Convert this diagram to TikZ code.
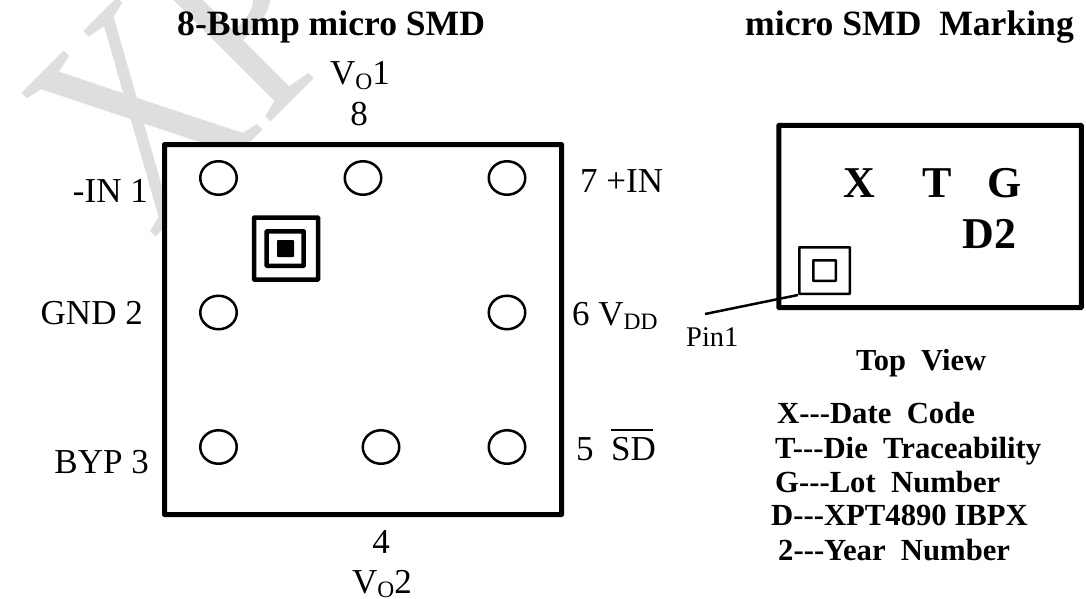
\documentclass[tikz,border=0pt]{standalone}
\usepackage{fontspec}
\setmainfont{Liberation Serif}
\usetikzlibrary{shapes.geometric}

\newcommand{\pinsub}[1]{\raisebox{-4.5pt}{\fontsize{23.5}{24}\selectfont #1}}

\tikzset{
    bump/.style={draw,ellipse,line width=2.5pt,minimum width=36.5pt,minimum height=33.5pt,inner sep=0pt},
    pinlabel/.style={font=\fontsize{35}{35}\selectfont,inner sep=0pt},
    headline/.style={font=\fontsize{35.6}{36}\bfseries\selectfont,inner sep=0pt,anchor=base west},
    markletter/.style={font=\fontsize{44}{44}\bfseries\selectfont,inner sep=0pt,anchor=base},
    legend/.style={font=\fontsize{30.7}{31}\bfseries\selectfont,inner sep=0pt,anchor=base west},
    square/.style={draw,rectangle,inner sep=0pt,rounded corners=0.5pt},
}

\begin{document}
\begin{tikzpicture}[x=1pt,y=-1pt]
    \useasboundingbox (0,0) rectangle (1086,599);
    % watermark
    \node[text=black!13,font=\fontsize{300}{300}\selectfont,rotate=45,xscale=.74,transform shape,inner sep=0pt] (wmark) at (183,71) {XP};

    % package
    \node[square,fill=white,line width=5pt,minimum width=397pt,minimum height=370pt] (pkg) at (363,329.5) {};
    \node[bump] (b1) at (218.5,178) {};
    \node[bump] (b8) at (363,178) {};
    \node[bump] (b7) at (507,178) {};
    \node[bump] (b2) at (218.5,312.5) {};
    \node[bump] (b6) at (507,312.5) {};
    \node[bump] (b3) at (218.5,447) {};
    \node[bump] (b4) at (381,447) {};
    \node[bump] (b5) at (507,447) {};
    \node[square,line width=4.5pt,minimum width=64pt,minimum height=62pt] (mark1) at (286,248.5) {};
    \node[square,line width=4.5pt,minimum width=37pt,minimum height=34.5pt] (mark2) at (285.2,248.5) {};
    \node[square,fill=black,line width=1pt,minimum width=16pt,minimum height=16pt] (mark3) at (285.5,248.5) {};

    \node[headline] (title1) at (177,36) {8-Bump micro SMD};
    \node[headline] (title2) at (745,36) {micro SMD\ \ Marking};

    \node[pinlabel,anchor=base west] (vo1) at (330,85) {V\pinsub{O}1};
    \node[pinlabel,anchor=base] (n8) at (359,125) {8};
    \node[pinlabel,anchor=base east] (in1) at (148,202) {-IN 1};
    \node[pinlabel,anchor=base east] (gnd) at (143,324) {GND 2};
    \node[pinlabel,anchor=base east] (byp) at (149,473) {BYP 3};
    \node[pinlabel,anchor=base west] (in7) at (580,192) {7 +IN};
    \node[pinlabel,anchor=base west] (vdd) at (572,325) {6 V\pinsub{DD}};
    \node[pinlabel,anchor=base west] (sd) at (576,460) {5\ \ \rlap{\rule[29pt]{42pt}{2.5pt}}SD};
    \node[pinlabel,anchor=base] (n4) at (381,553) {4};
    \node[pinlabel,anchor=base west] (vo2) at (352,593) {V\pinsub{O}2};

    % marking
    \node[square,line width=5pt,minimum width=302.5pt,minimum height=182pt] (top) at (930,216.5) {};
    \node[markletter] (x) at (859,197) {X};
    \node[markletter] (t) at (937.5,197) {T};
    \node[markletter] (g) at (1005,197) {G};
    \node[markletter] (d2) at (989.5,248) {D2};
    \node[square,line width=2.5pt,minimum width=50.5pt,minimum height=46.5pt] (pinbox) at (824.5,270.5) {};
    \node[square,line width=2.5pt,minimum width=22.5pt,minimum height=20.5pt] (pindot) at (824.5,270.5) {};
    \coordinate (lead) at (705,314);
    \draw[line width=2.5pt] (pinbox.south west) -- (lead);
    \node[font=\fontsize{28.5}{29}\selectfont,inner sep=0pt,anchor=base west] (pin1) at (686,346) {Pin1};

    \node[font=\fontsize{30.5}{31}\bfseries\selectfont,inner sep=0pt,anchor=base west] (view) at (856,370) {Top\ \ View};
    \node[legend] (l1) at (777,423) {X-{}-{}-Date\ \ Code};
    \node[legend] (l2) at (775,458) {T-{}-{}-Die\ \ Traceability};
    \node[legend] (l3) at (775,492) {G-{}-{}-Lot\ \ Number};
    \node[legend] (l4) at (771,525) {D-{}-{}-XPT4890 IBPX};
    \node[legend] (l5) at (778,560) {2-{}-{}-Year\ \ Number};
\end{tikzpicture}
\end{document}
